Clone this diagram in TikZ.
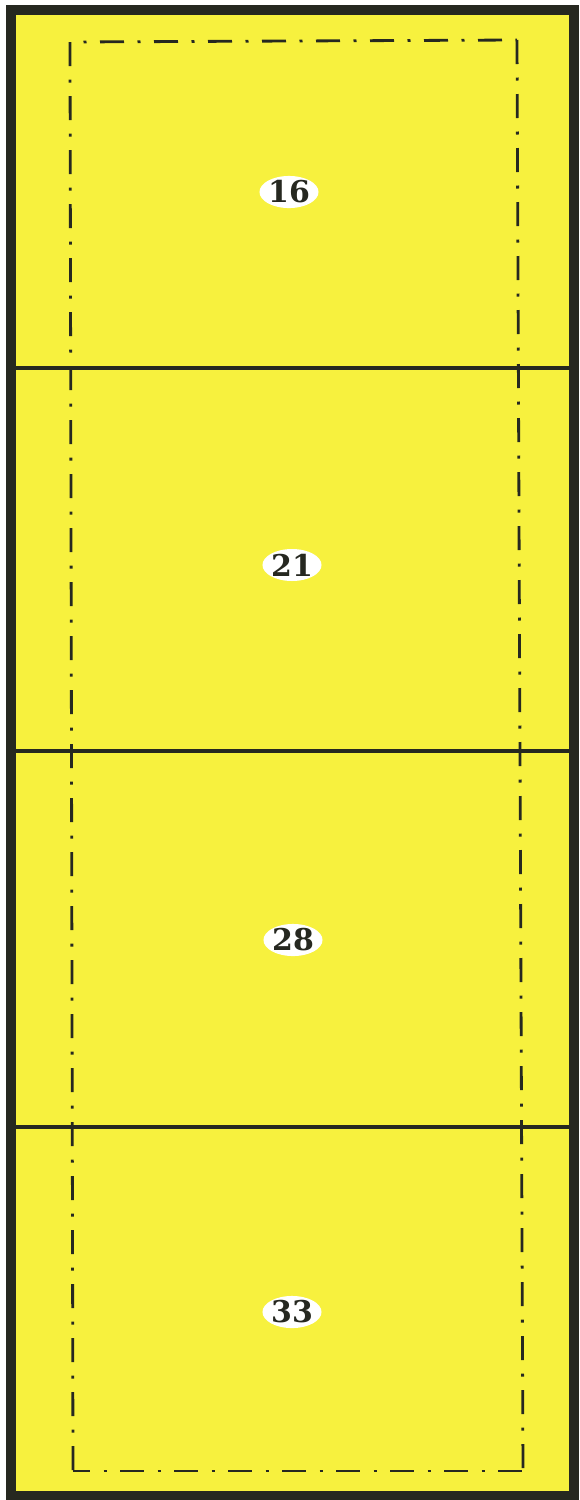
\documentclass[tikz,border=0pt]{standalone}
\usepackage{fontspec}
\newfontfamily\numfont{DejaVu Serif}
\usetikzlibrary{shapes.geometric}
\definecolor{panelyellow}{RGB}{247,241,62}
\definecolor{inkdark}{RGB}{38,40,32}
\tikzset{
  outerframe/.style={draw=inkdark, line width=10pt, fill=panelyellow},
  divider/.style={draw=inkdark, line width=4pt},
  dashdot/.style={draw=inkdark, line width=2.8pt, dash pattern=on 24pt off 13.5pt on 3pt off 13.5pt},
  numlabel/.style={shape=ellipse, fill=white, inner sep=0pt, minimum width=54pt, minimum height=32pt, font=\numfont\bfseries\fontsize{30}{30}\selectfont, text=inkdark}
}
\begin{document}
\begin{tikzpicture}[x=1pt,y=-1pt]
\useasboundingbox (0,0) rectangle (580,1500);
\fill[white] (0,0) rectangle (580,1500);
% frame
\draw[outerframe] (11,10) rectangle (574,1496);
% dividers
\coordinate (d1l) at (15,368); \coordinate (d1r) at (570,368);
\coordinate (d2l) at (15,751); \coordinate (d2r) at (570,751);
\coordinate (d3l) at (15,1127); \coordinate (d3r) at (570,1127);
\draw[divider] (d1l) -- (d1r);
\draw[divider] (d2l) -- (d2r);
\draw[divider] (d3l) -- (d3r);
% dash-dot rectangle
\coordinate (tl) at (70,42);
\coordinate (tr) at (517,40);
\coordinate (br) at (523,1471);
\coordinate (bl) at (73,1471);
\draw[dashdot, dash phase=0pt] (tl) -- (bl);
\draw[dashdot, dash phase=24pt] (tl) -- (tr);
\draw[dashdot, dash phase=0pt] (tr) -- (br);
\draw[dashdot, dash phase=7pt] (bl) -- (br);
% labels
\node[numlabel] (n16) at (289,192) {16};
\node[numlabel] (n21) at (292,565) {21};
\node[numlabel] (n28) at (293,940) {28};
\node[numlabel] (n33) at (292,1312) {33};
\end{tikzpicture}
\end{document}
